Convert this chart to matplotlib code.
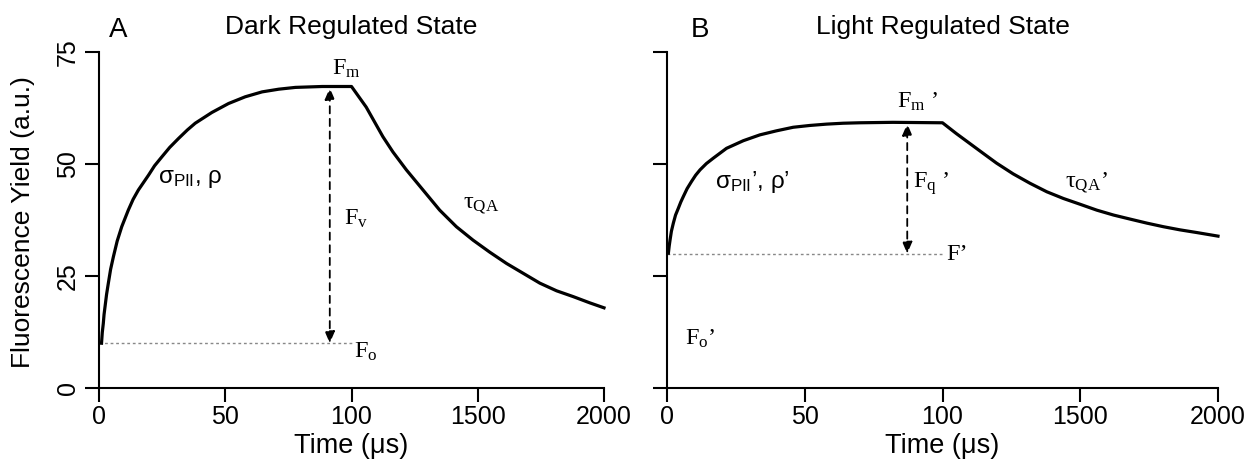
import numpy as np
import matplotlib
matplotlib.use("Agg")
import matplotlib.pyplot as plt

plt.rcParams['font.family'] = ['Liberation Sans', 'DejaVu Sans']
plt.rcParams['mathtext.fontset'] = 'custom'
plt.rcParams['mathtext.rm'] = 'Liberation Serif'
plt.rcParams['mathtext.it'] = 'Liberation Serif:italic'
plt.rcParams['mathtext.sf'] = 'Liberation Sans'

# time axis: 0-100 us linear, then compressed up to 2000 us
tick_times = [0, 50, 100, 1500, 2000]
tick_labels = ["0", "50", "100", "1500", "2000"]
y_ticks = [0, 25, 50, 75]

# panel A - dark regulated state
dark_t = [1, 1.3, 1.7, 2.0, 2.4, 3.0, 3.7, 4.6, 5.7, 7.2, 9, 11.6, 13.5, 15.6, 19.6, 22,
          24.9, 28, 31.5, 35, 38.1, 44.7, 51.3, 57.9, 64.6, 71.2, 77.8, 88.4, 100,
          263, 448, 559, 708, 893, 1078, 1263, 1448, 1548, 1614,
          1680, 1746, 1812, 1878, 1944, 2000]
dark_f = [10.0, 12.4, 14.4, 16.4, 18.2, 20.9, 23.4, 26.5, 29.3, 32.8, 36.0, 39.7, 42.1,
          44.2, 47.5, 49.6, 51.6, 53.7, 55.7, 57.6, 59.1, 61.5, 63.5, 65.0, 66.1, 66.7,
          67.1, 67.3, 67.3,
          62.7, 56.1, 52.7, 48.7, 44.2, 39.7, 36.0, 33.0, 30.3, 27.8,
          25.6, 23.4, 21.7, 20.4, 19.0, 17.9]
dark_fo, dark_fm, dark_arrow_t = 10, 67, 91.4

# panel B - light regulated state
light_t = [0.5, 0.8, 1.1, 1.6, 2.3, 3.1, 4.1, 5.0, 5.9, 7.3, 8.9, 10.4, 12.0, 14.3, 16.8,
           21.6, 27.7, 33.7, 39.7, 45.8, 51.8, 57.9, 63.9, 69.9, 82, 100,
           240, 376, 512, 649, 818, 989, 1160, 1329, 1500, 1560, 1621, 1681,
           1742, 1802, 1862, 1923, 2000]
light_f = [30.1, 31.7, 33.0, 35.0, 36.8, 38.6, 40.1, 41.5, 42.7, 44.5, 46.1, 47.5, 48.7,
           50.1, 51.3, 53.5, 55.2, 56.5, 57.4, 58.2, 58.6, 58.9, 59.1, 59.2, 59.3, 59.2,
           56.8, 54.6, 52.4, 50.2, 47.8, 45.7, 43.8, 42.3, 41.0, 39.7, 38.6,
           37.7, 36.8, 36.0, 35.3, 34.7, 33.9]
light_fp, light_fm, light_arrow_t = 30, 59, 87.2

PRIME = "\u2019"


def fwd(x):
    return np.interp(x, tick_times, np.arange(len(tick_times)))


def inv(p):
    return np.interp(p, np.arange(len(tick_times)), tick_times)


def setup(ax, title, letter, letter_x, show_ylabels):
    ax.set_xscale('function', functions=(fwd, inv))
    ax.set_xlim(0, 2000)
    ax.set_ylim(0, 75)
    ax.set_xticks(tick_times)
    ax.set_xticklabels(tick_labels)
    ax.set_yticks(y_ticks)
    ax.spines['top'].set_visible(False)
    ax.spines['right'].set_visible(False)
    for s in ['left', 'bottom']:
        ax.spines[s].set_linewidth(1.5)
    ax.tick_params(axis='both', length=10, width=1.5, labelsize=18)
    ax.tick_params(axis='x', pad=2)
    ax.tick_params(axis='y', pad=4, labelrotation=90)
    for lab in ax.get_yticklabels():
        lab.set_va('center')
    if not show_ylabels:
        ax.tick_params(axis='y', labelleft=False)
    ax.set_xlabel("Time (\u03bcs)", fontsize=19.5)
    ax.xaxis.set_label_coords(0.5, -0.135)
    ax.set_title(title, fontsize=19, pad=13)
    ax.text(letter_x, 1.045, letter, transform=ax.transAxes, fontsize=20,
            ha='left', va='baseline')


def arrow(ax, t, lo, hi):
    ax.annotate('', xy=(t, hi), xytext=(t, lo),
                arrowprops=dict(arrowstyle='<|-|>,head_length=0.7,head_width=0.3',
                                linestyle=(0, (4, 3)), lw=1.3, color='black',
                                shrinkA=0, shrinkB=0))


fig = plt.figure(figsize=(12.56, 4.68), dpi=100)
axA = fig.add_axes([99 / 1256, 80 / 468, 505 / 1256, 336 / 468])
axB = fig.add_axes([667 / 1256, 80 / 468, 551 / 1256, 336 / 468])

setup(axA, "Dark Regulated State", "A", 0.02, True)
axA.set_ylabel("Fluorescence Yield (a.u.)", fontsize=19)
axA.yaxis.set_label_coords(-0.127, 0.494)
setup(axB, "Light Regulated State", "B", 0.044, False)

serif = dict(fontfamily='Liberation Serif', fontsize=17.5, ha='left', va='baseline')
sans = dict(fontsize=17.5, ha='left', va='baseline')

# panel A
axA.plot([0, 100], [dark_fo, dark_fo], color='#888888', lw=1, ls=(0, (2, 2)))
axA.plot(dark_t, dark_f, color='black', lw=2.3, clip_on=False)
arrow(axA, dark_arrow_t, dark_fo, dark_fm)
axA.text(92.3, 69.9, r"$\mathrm{F}_{\mathrm{m}}$", **serif)
axA.text(97, 36.4, r"$\mathrm{F}_{\mathrm{v}}$", **serif)
axA.text(133, 6.7, r"$\mathrm{F}_{\mathrm{o}}$", **serif)
axA.text(1337, 40.2, r"$\mathrm{\tau}_{\mathrm{QA}}$", **serif)
axA.text(23.5, 45.8, r"$\mathsf{\sigma}_{\mathsf{PII}}$, ρ", **sans)

# panel B
axB.plot([0, 100], [light_fp, light_fp], color='#888888', lw=1, ls=(0, (2, 2)))
axB.plot(light_t, light_f, color='black', lw=2.3, clip_on=False)
arrow(axB, light_arrow_t, light_fp, light_fm)
axB.text(83.6, 62.5, r"$\mathrm{F}_{\mathrm{m}}$ " + PRIME, **serif)
axB.text(89.2, 44.6, r"$\mathrm{F}_{\mathrm{q}}$ " + PRIME, **serif)
axB.text(138, 28.6, "F" + PRIME, **serif)
axB.text(1347, 44.9, r"$\mathrm{\tau}_{\mathrm{QA}}$" + PRIME, **serif)
axB.text(6.5, 9.6, r"$\mathrm{F}_{\mathrm{o}}$" + PRIME, **serif)
axB.text(17.4, 44.6, r"$\mathsf{\sigma}_{\mathsf{PII}}$" + PRIME + ", ρ" + PRIME, **sans)

fig.savefig("out.png", dpi=100)
